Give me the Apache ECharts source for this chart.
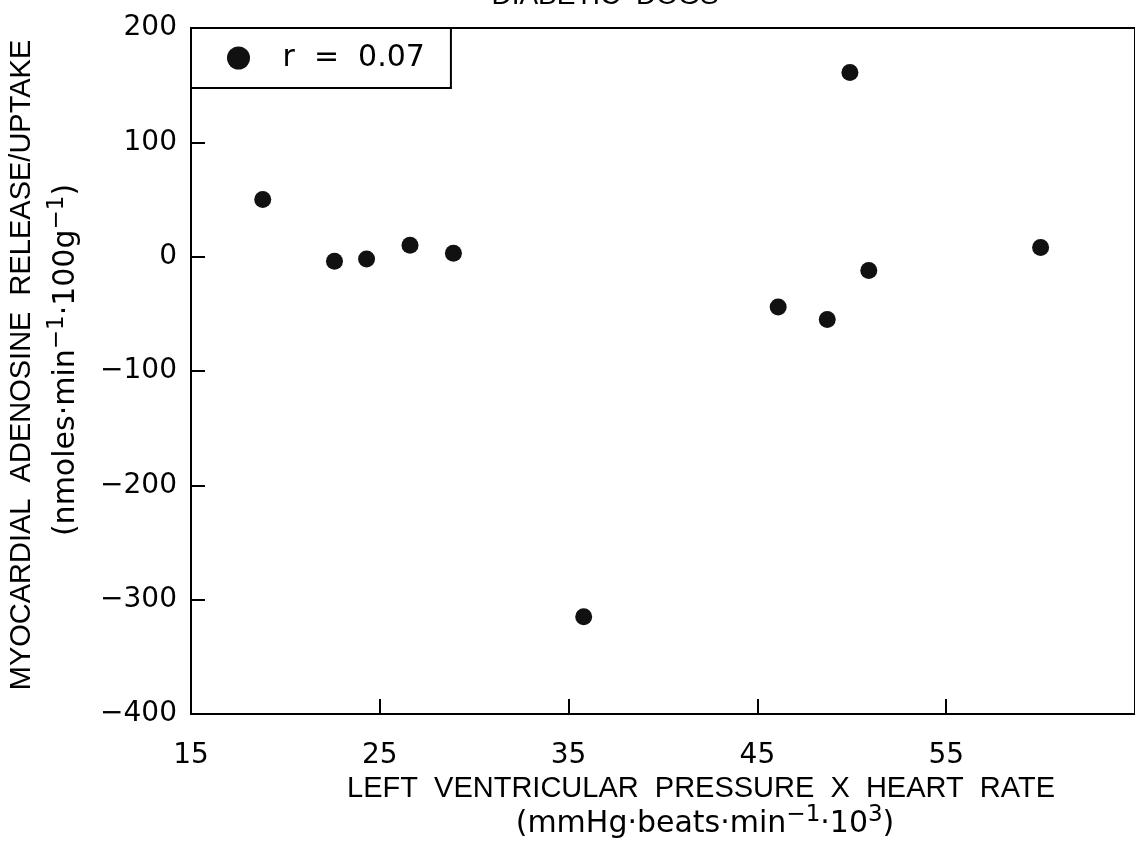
<!DOCTYPE html>
<html>
<head>
<meta charset="utf-8">
<script src="https://cdn.jsdelivr.net/npm/echarts@6/dist/echarts.min.js"></script>
<style>
  html, body { margin: 0; padding: 0; background: #fff; }
  #chart { width: 1135px; height: 852px; }
</style>
</head>
<body>
<div id="chart"></div>
<script>
// Rate-pressure product (x 10^3) for each dog
const pressureRate = [18.8, 22.6, 24.3, 26.6, 28.9, 35.8, 46.1, 48.7, 49.9, 50.9, 60.0];
// Myocardial adenosine release (+) / uptake (-), nmoles/min/100g
const adenosine = [50, -4, -2, 10, 3, -315, -44, -55, 161, -12, 8];
const seriesName = 'r  =  0.07';
const xTicks = { min: 15, max: 65, step: 10 };
const yTicks = { min: -400, max: 200, step: 100 };

const points = pressureRate.map((x, i) => [x, adenosine[i]]);

const numFont = 'DejaVu Sans';
const txtFont = 'Liberation Sans, Arial, sans-serif';

// rich-text styles for unit lines with superscripts
const unitRich = {
  b: { fontFamily: numFont, fontSize: 30, fill: '#000', lineHeight: 40 },
  s: { fontFamily: numFont, fontSize: 23, fill: '#000', lineHeight: 22, verticalAlign: 'top' }
};

const chart = echarts.init(document.getElementById('chart'), null, { renderer: 'canvas' });

chart.setOption({
  animation: false,
  backgroundColor: '#fff',
  grid: {
    left: 191, top: 28, right: -7, bottom: 138,
    show: true, borderColor: '#000', borderWidth: 2, backgroundColor: 'transparent'
  },
  legend: {
    left: 191, top: 28,
    padding: [15, 26, 15, 36],
    itemWidth: 78, itemHeight: 23,
    icon: 'circle',
    selectedMode: false,
    backgroundColor: '#fff',
    borderColor: '#000', borderWidth: 2, borderRadius: 0,
    textStyle: { fontFamily: numFont, fontSize: 30, color: '#000' },
    data: [seriesName]
  },
  xAxis: {
    type: 'value',
    min: xTicks.min, max: xTicks.max, interval: xTicks.step,
    axisLine: { show: true, onZero: false, lineStyle: { color: '#000', width: 2 } },
    axisTick: { show: true, inside: true, length: 15, lineStyle: { color: '#000', width: 2 } },
    splitLine: { show: false },
    axisLabel: {
      margin: 28, color: '#000', fontFamily: numFont, fontSize: 28,
      showMaxLabel: false
    }
  },
  yAxis: {
    type: 'value',
    min: yTicks.min, max: yTicks.max, interval: yTicks.step,
    axisLine: { show: true, onZero: false, lineStyle: { color: '#000', width: 2 } },
    axisTick: { show: true, inside: true, length: 14, lineStyle: { color: '#000', width: 2 } },
    splitLine: { show: false },
    axisLabel: {
      margin: 14, color: '#000', fontFamily: numFont, fontSize: 28,
      formatter: v => String(v).replace('-', '\u2212')
    }
  },
  series: [{
    name: seriesName,
    type: 'scatter',
    data: points,
    symbol: 'circle',
    symbolSize: 17,
    itemStyle: { color: '#111', opacity: 1 }
  }],
  graphic: [
    {
      type: 'text', x: 605, y: -4,
      style: {
        text: 'DIABETIC  DOGS', fontFamily: txtFont, fontSize: 28, fill: '#000',
        align: 'center', verticalAlign: 'middle'
      }
    },
    {
      type: 'text', x: 22, y: 365, rotation: Math.PI / 2,
      style: {
        text: 'MYOCARDIAL  ADENOSINE  RELEASE/UPTAKE', fontFamily: txtFont, fontSize: 29, fill: '#000',
        align: 'center', verticalAlign: 'middle'
      }
    },
    {
      type: 'text', x: 66, y: 360, rotation: Math.PI / 2,
      style: {
        text: '{b|(nmoles\u00b7min}{s|\u22121}{b|\u00b7100g}{s|\u22121}{b|)}',
        align: 'center', verticalAlign: 'middle',
        rich: unitRich
      }
    },
    {
      type: 'text', x: 701, y: 789,
      style: {
        text: 'LEFT  VENTRICULAR  PRESSURE  X  HEART  RATE', fontFamily: txtFont, fontSize: 29, fill: '#000',
        align: 'center', verticalAlign: 'middle'
      }
    },
    {
      type: 'text', x: 705, y: 824,
      style: {
        text: '{b|(mmHg\u00b7beats\u00b7min}{s|\u22121}{b|\u00b710}{s|3}{b|)}',
        align: 'center', verticalAlign: 'middle',
        rich: unitRich
      }
    }
  ]
});
</script>
</body>
</html>
